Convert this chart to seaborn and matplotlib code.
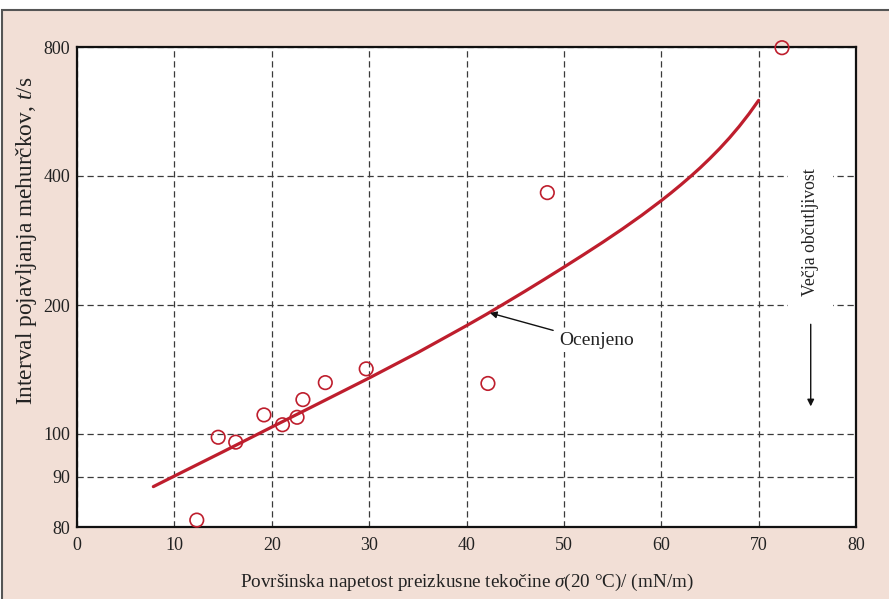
import numpy as np
import pandas as pd
import matplotlib
matplotlib.use("Agg")
import matplotlib.pyplot as plt
from matplotlib.patches import Rectangle
import seaborn as sns

# ---------------- data ----------------
# measured points: surface tension (mN/m) vs. bubble interval (s)
sigma_meas = [12.3, 14.5, 16.3, 19.2, 21.1, 22.6, 23.2, 25.5, 29.7, 42.2, 48.3, 72.4]
t_meas = [81.3, 99.2, 98.0, 110.8, 105.1, 109.4, 120.3, 131.8, 141.9, 131.2, 365.8, 797.0]

# estimated curve ("Ocenjeno")
sigma_est = [7.84, 10, 15, 20, 25, 30, 35, 40, 42, 44, 46, 48, 50, 52, 54, 56, 58, 60,
             61, 62, 63, 64, 65, 66, 67, 68, 69, 70]
t_est = [87.9, 90.1, 95.7, 103.8, 118.4, 135.1, 154.9, 179.0, 190.0, 202.2, 215.3, 229.6,
         245.1, 261.9, 280.3, 300.8, 323.9, 350.4, 365.2, 381.3, 398.8, 418.1, 439.6,
         463.6, 490.8, 522.0, 558.2, 600.5]

x_ticks = [0, 10, 20, 30, 40, 50, 60, 70, 80]
y_ticks = [80, 90, 100, 200, 400, 800]

xlabel = "Površinska napetost preizkusne tekočine $\\sigma$(20 °C)/ (mN/m)"
ylabel = "Interval pojavljanja mehurčkov, $t$/s"
note_est = "Ocenjeno"
note_sens = "Večja občutljivost"

# ---------------- style ----------------
sns.set_theme(style="white")
plt.rcParams["font.family"] = ["Liberation Serif", "DejaVu Serif"]
plt.rcParams["mathtext.fontset"] = "custom"
plt.rcParams["mathtext.rm"] = "Liberation Serif"
plt.rcParams["mathtext.it"] = "Liberation Serif:italic"

RED = "#be1e2d"
PINK = "#f2dfd6"
TXT = "#222222"

# non-uniform (hand-drawn) vertical scale: piecewise in log10(t)
knot_t = np.log10([80, 90, 100, 200, 400, 800])
knot_p = np.array([0.0, 50.5, 93.0, 222.0, 351.0, 480.0])
lo_s = (knot_p[1] - knot_p[0]) / (knot_t[1] - knot_t[0])
hi_s = (knot_p[-1] - knot_p[-2]) / (knot_t[-1] - knot_t[-2])
kt = np.concatenate([[knot_t[0] - 5], knot_t, [knot_t[-1] + 5]])
kp = np.concatenate([[knot_p[0] - 5 * lo_s], knot_p, [knot_p[-1] + 5 * hi_s]])


def fwd(t):
    t = np.asarray(t, dtype=float)
    return np.interp(np.log10(np.clip(t, 1e-9, None)), kt, kp)


def inv(p):
    p = np.asarray(p, dtype=float)
    return 10 ** np.interp(p, kp, kt)


fig = plt.figure(figsize=(8.89, 5.99), dpi=100)
fig.patch.set_facecolor("white")
fig.patches.append(Rectangle((2 / 889, -0.05), 1.1, (599 - 10) / 599 + 0.05,
                             transform=fig.transFigure, facecolor=PINK,
                             edgecolor="#555555", linewidth=1.5, zorder=-10))

ax = fig.add_axes([77 / 889, (599 - 527) / 599, 779 / 889, 480 / 599])
ax.set_facecolor("white")
ax.set_yscale("function", functions=(fwd, inv))
ax.set_xlim(0, 80)
ax.set_ylim(80, 800)

df_est = pd.DataFrame({"sigma": sigma_est, "t": t_est})
df_meas = pd.DataFrame({"sigma": sigma_meas, "t": t_meas})

sns.lineplot(data=df_est, x="sigma", y="t", ax=ax, color=RED, linewidth=2.3,
             sort=False, zorder=3)
sns.scatterplot(data=df_meas, x="sigma", y="t", ax=ax, marker="o", s=95,
                facecolor="none", edgecolor=RED, linewidth=1.2, zorder=4,
                clip_on=False)

ax.set_xticks(x_ticks)
ax.set_xticklabels([str(v) for v in x_ticks])
ax.set_yticks(y_ticks)
ax.set_yticklabels([str(v) for v in y_ticks])
ax.yaxis.set_minor_locator(matplotlib.ticker.NullLocator())
ax.tick_params(axis="both", length=0, labelsize=13, colors=TXT)
ax.tick_params(axis="x", pad=7)
ax.tick_params(axis="y", pad=5)

ax.grid(True, which="major", linestyle=(0, (5, 3)), color="#3a3a3a", linewidth=0.9)
for s in ax.spines.values():
    s.set_color("#111111")
    s.set_linewidth(1.6)
    s.set_visible(True)

ax.set_xlabel(xlabel, fontsize=13.8, color=TXT, ha="center", va="center")
ax.xaxis.set_label_coords((467 - 77) / 779, (527 - 582) / 480)
ax.set_ylabel(ylabel, fontsize=16.8, color=TXT, ha="center", va="center")
ax.yaxis.set_label_coords((27 - 77) / 779, (527 - 241) / 480)

# annotations
ax.text(53.4, 165.3, note_est, fontsize=14, color=TXT, ha="center", va="center",
        bbox=dict(facecolor="white", edgecolor="none", pad=2), zorder=5)
ax.annotate("", xy=(42.4, 191.7), xytext=(48.9, 174.5),
            arrowprops=dict(arrowstyle="-|>", color="#111111", lw=1.0,
                            mutation_scale=10, shrinkA=0, shrinkB=0), zorder=5)
ax.text(75.3, 296.5, note_sens, fontsize=12.8, color=TXT, rotation=90,
        ha="center", va="center",
        bbox=dict(facecolor="white", edgecolor="none", pad=10), zorder=5)
ax.annotate("", xy=(75.35, 116.0), xytext=(75.35, 180.3),
            arrowprops=dict(arrowstyle="-|>", color="#111111", lw=1.0,
                            mutation_scale=10, shrinkA=0, shrinkB=0), zorder=5)

fig.savefig("out.png", dpi=100, facecolor=fig.get_facecolor())
